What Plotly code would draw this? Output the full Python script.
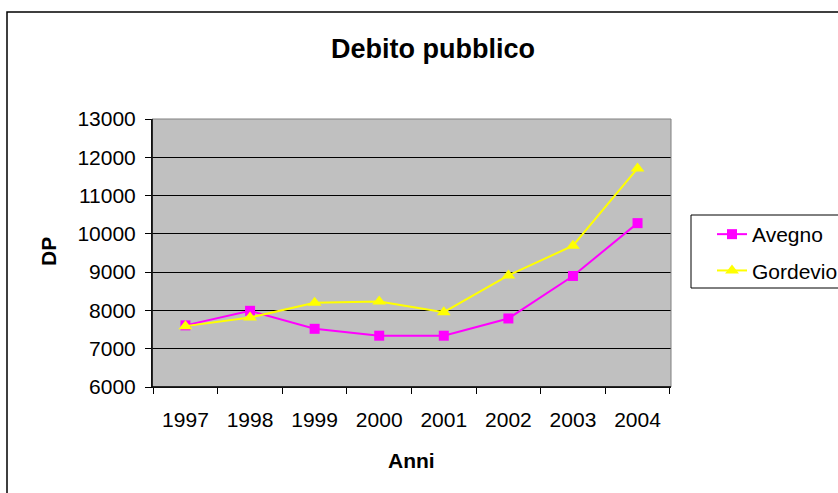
import plotly.graph_objects as go

anni = ["1997", "1998", "1999", "2000", "2001", "2002", "2003", "2004"]
avegno = [7610, 7990, 7520, 7340, 7340, 7790, 8900, 10280]
gordevio = [7590, 7815, 8200, 8230, 7955, 8915, 9690, 11710]
y_ticks = [6000, 7000, 8000, 9000, 10000, 11000, 12000, 13000]

FONT = "Liberation Sans, Arial, sans-serif"

fig = go.Figure()
fig.add_trace(go.Scatter(
    x=anni, y=avegno, name="Avegno", mode="lines+markers",
    line=dict(color="#FF00FF", width=2),
    marker=dict(symbol="square", size=10, color="#FF00FF"),
    legendgroup="a",
))
fig.add_trace(go.Scatter(
    x=anni, y=gordevio, name="Gordevio", mode="lines+markers",
    line=dict(color="#FFFF00", width=2),
    marker=dict(symbol="triangle-up", size=12, color="#FFFF00"),
    legendgroup="g",
))

L, R, T, B = 152, 671, 119, 387
W, H = 838, 493
pw, ph = R - L, B - T

def px(x):
    return (x - L) / pw

def py(y):
    return (B - y) / ph

fig.update_layout(
    width=W, height=H,
    margin=dict(l=L, r=W - R, t=T, b=H - B, pad=0, autoexpand=False),
    paper_bgcolor="white",
    plot_bgcolor="#C0C0C0",
    font=dict(family=FONT, size=20, color="black"),
    title=dict(text="<b>Debito pubblico</b>", x=433 / W, xanchor="center",
               y=1 - 49 / H, yanchor="middle", font=dict(size=27, family=FONT)),
    showlegend=True,
    legend=dict(x=px(712), xanchor="left", y=py(214), yanchor="top",
                bgcolor="rgba(0,0,0,0)", borderwidth=0, tracegroupgap=6,
                font=dict(size=21, family=FONT)),
    xaxis=dict(
        type="category", tickson="boundaries", ticks="outside", ticklen=6,
        tickcolor="black", showline=True, linecolor="black", linewidth=1,
        showgrid=False, automargin=False, ticklabelstandoff=14,
        tickfont=dict(size=21, family=FONT),
    ),
    yaxis=dict(
        range=[6000, 13000], tickvals=y_ticks, tickformat="d",
        ticks="outside", ticklen=6,
        tickcolor="black", showline=True, linecolor="black", linewidth=1,
        showgrid=True, gridcolor="black", gridwidth=1, zeroline=False,
        automargin=False, ticklabelstandoff=5,
        tickfont=dict(size=21, family=FONT),
    ),
    annotations=[
        dict(text="<b>Anni</b>", xref="paper", yref="paper", x=px(411), y=py(460),
             xanchor="center", yanchor="middle", showarrow=False,
             font=dict(size=21, family=FONT)),
        dict(text="<b>DP</b>", xref="paper", yref="paper", x=px(48), y=py(252),
             xanchor="center", yanchor="middle", showarrow=False, textangle=-90,
             font=dict(size=21, family=FONT)),
    ],
    shapes=[
        dict(type="rect", xref="paper", yref="paper", x0=0, x1=1, y0=0, y1=1,
             line=dict(color="#808080", width=1), layer="above"),
        dict(type="line", xref="paper", yref="paper", x0=0, x1=0, y0=0, y1=1,
             line=dict(color="black", width=1.5), layer="above"),
        dict(type="line", xref="paper", yref="paper", x0=0, x1=1, y0=0, y1=0,
             line=dict(color="black", width=1.5), layer="above"),
        dict(type="rect", xref="paper", yref="paper", x0=px(691), x1=px(900),
             y0=py(288), y1=py(215), line=dict(color="black", width=1)),
        dict(type="rect", xref="paper", yref="paper", x0=px(7), x1=px(900),
             y0=py(560), y1=py(12), line=dict(color="black", width=1.5)),
    ],
)

fig.write_html("out.html", config={"displayModeBar": False},
               post_script="document.body.style.margin='0';document.body.style.overflow='hidden';")
